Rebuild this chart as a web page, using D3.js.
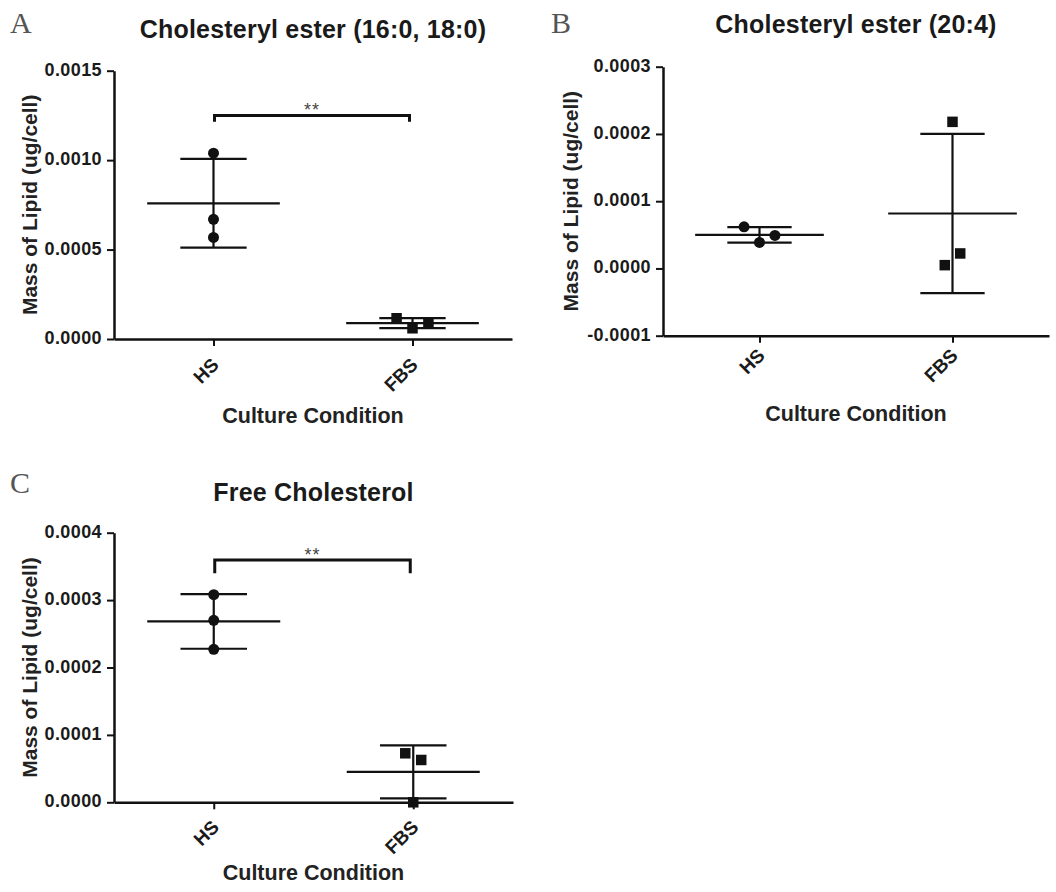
<!DOCTYPE html>
<html>
<head>
<meta charset="utf-8">
<script src="https://cdn.jsdelivr.net/npm/d3@7"></script>
<style>
  html, body { margin: 0; padding: 0; background: #fff; }
  svg { display: block; }
</style>
</head>
<body>
<svg id="chart"></svg>
<script>
// ---- data ----
const categories = ["HS", "FBS"];

const ce1618_HS  = [0.001039, 0.000669, 0.000568];
const ce1618_FBS = [0.000116, 0.000060, 0.000091];
const ce204_HS   = [0.0000619, 0.0000387, 0.0000491];
const ce204_FBS  = [0.000218, 0.0000049, 0.0000223];
const freeChol_HS  = [0.000308, 0.000270, 0.000227];
const freeChol_FBS = [0.0000727, 0.0000628, 0.0];

// jitter slots (Prism-style spreading of overlapping points)
const jitter_ce1618 = [[0, 0, 0], [-1, 0, 1]];
const jitter_ce204  = [[-1, 0, 1], [0, -0.5, 0.5]];
const jitter_free   = [[0, 0, 0], [-0.5, 0.5, 0]];

const ticks_ce1618 = [0, 0.0005, 0.0010, 0.0015];
const ticks_ce204  = [-0.0001, 0, 0.0001, 0.0002, 0.0003];
const ticks_free   = [0, 0.0001, 0.0002, 0.0003, 0.0004];

const bracket_ce1618 = { y: 0.00125, leg: 0.001214, label: "**" };
const bracket_free   = { y: 0.0003595, leg: 0.00034, label: "**" };

const titles = ["Cholesteryl ester (16:0, 18:0)", "Cholesteryl ester (20:4)", "Free Cholesterol"];
const yTitle = "Mass of Lipid (ug/cell)";
const xTitle = "Culture Condition";

// ---- layout ----
const W = 1056, H = 892;
const FONT = "'Liberation Sans', Arial, Helvetica, sans-serif";
const INK = "#111";

const svg = d3.select("#chart").attr("width", W).attr("height", H);
svg.append("rect").attr("width", W).attr("height", H).attr("fill", "#fff");

const panels = [
  { letter: "A", letterX: 10, letterY: 33, title: titles[0], titleY: 38,
    left: 114, right: 512, top: 70.7, bottom: 339,
    ticks: ticks_ce1618, series: [ce1618_HS, ce1618_FBS], jitter: jitter_ce1618,
    bracket: bracket_ce1618, yLabelX: 37, xTitleY: 423, xLabelDy: 27 },
  { letter: "B", letterX: 551, letterY: 33, title: titles[1], titleY: 33,
    left: 663, right: 1049, top: 66.7, bottom: 335.7,
    ticks: ticks_ce204, series: [ce204_HS, ce204_FBS], jitter: jitter_ce204,
    bracket: null, yLabelX: 578, xTitleY: 421, xLabelDy: 21 },
  { letter: "C", letterX: 10, letterY: 493, title: titles[2], titleY: 501,
    left: 114, right: 513, top: 532.7, bottom: 802.3,
    ticks: ticks_free, series: [freeChol_HS, freeChol_FBS], jitter: jitter_free,
    bracket: bracket_free, yLabelX: 37, xTitleY: 880, xLabelDy: 26 }
];

panels.forEach(drawPanel);

function drawPanel(p) {
  const g = svg.append("g");

  const y = d3.scaleLinear()
    .domain(d3.extent(p.ticks))
    .range([p.bottom, p.top]);

  const x = d3.scalePoint()
    .domain(categories)
    .range([p.left, p.right])
    .padding(0.5);

  const step = x.step();

  // panel letter
  g.append("text")
    .attr("x", p.letterX).attr("y", p.letterY)
    .style("font-family", "'Liberation Serif', 'Times New Roman', serif")
    .style("font-size", "30px")
    .style("fill", "#555")
    .text(p.letter);

  // title
  g.append("text")
    .attr("x", (p.left + p.right) / 2).attr("y", p.titleY)
    .attr("text-anchor", "middle")
    .style("font-family", FONT)
    .style("font-weight", "bold")
    .style("font-size", "25px")
    .style("letter-spacing", "0.2px")
    .style("fill", "#1a1a1a")
    .text(p.title);

  // y axis
  const yAxis = g.append("g")
    .attr("transform", `translate(${p.left},0)`)
    .call(d3.axisLeft(y).tickValues(p.ticks).tickFormat(d => d.toFixed(4))
      .tickSize(7).tickSizeOuter(0).tickPadding(5));
  yAxis.select(".domain").attr("stroke", INK).attr("stroke-width", 2.5);
  yAxis.selectAll(".tick line").attr("stroke", INK).attr("stroke-width", 2);
  yAxis.selectAll(".tick text")
    .attr("dy", "0.25em")
    .style("font-family", FONT)
    .style("font-weight", "bold")
    .style("font-size", "18px")
    .style("letter-spacing", "0.4px")
    .style("fill", "#1a1a1a");

  // x axis
  const xAxis = g.append("g")
    .attr("transform", `translate(0,${p.bottom})`)
    .call(d3.axisBottom(x).tickSize(7).tickSizeOuter(0));
  xAxis.select(".domain").attr("stroke", INK).attr("stroke-width", 2.5);
  xAxis.selectAll(".tick line").attr("stroke", INK).attr("stroke-width", 2);
  xAxis.selectAll(".tick text")
    .attr("x", null).attr("y", null).attr("dy", null)
    .attr("text-anchor", "end")
    .attr("transform", `translate(6,${p.xLabelDy}) rotate(-45)`)
    .style("font-family", FONT)
    .style("font-weight", "bold")
    .style("font-size", "19px")
    .style("fill", "#1a1a1a");

  // axis titles
  g.append("text")
    .attr("transform", `translate(${p.yLabelX},${(p.top + p.bottom) / 2}) rotate(-90)`)
    .attr("text-anchor", "middle")
    .style("font-family", FONT)
    .style("font-weight", "bold")
    .style("font-size", "21px")
    .style("fill", "#222")
    .text(yTitle);

  g.append("text")
    .attr("x", (p.left + p.right) / 2).attr("y", p.xTitleY)
    .attr("text-anchor", "middle")
    .style("font-family", FONT)
    .style("font-weight", "bold")
    .style("font-size", "21.5px")
    .style("fill", "#222")
    .text(xTitle);

  // mean +/- SD
  p.series.forEach((vals, i) => {
    const cx = x(categories[i]);
    const m = d3.mean(vals);
    const sd = d3.deviation(vals);
    const eg = g.append("g").attr("stroke", INK).attr("stroke-width", 2.2).attr("fill", "none");

    eg.append("line")
      .attr("x1", cx).attr("x2", cx)
      .attr("y1", y(m - sd)).attr("y2", y(m + sd));
    [m - sd, m + sd].forEach(v => {
      eg.append("line")
        .attr("x1", cx - step / 6).attr("x2", cx + step / 6)
        .attr("y1", y(v)).attr("y2", y(v));
    });
    eg.append("line")
      .attr("x1", cx - step / 3).attr("x2", cx + step / 3)
      .attr("y1", y(m)).attr("y2", y(m));
  });

  // points: circles for HS, squares for FBS
  p.series.forEach((vals, i) => {
    const cx = x(categories[i]);
    const jit = p.jitter[i];
    const pts = vals.map((v, k) => ({ v, px: cx + jit[k] * step * 0.08 }));
    if (i === 0) {
      g.selectAll(null).data(pts).enter().append("circle")
        .attr("cx", d => d.px).attr("cy", d => y(d.v))
        .attr("r", 5.5).attr("fill", INK);
    } else {
      g.selectAll(null).data(pts).enter().append("rect")
        .attr("x", d => d.px - 5.25).attr("y", d => y(d.v) - 5.25)
        .attr("width", 10.5).attr("height", 10.5).attr("fill", INK);
    }
  });

  // significance bracket
  if (p.bracket) {
    const b = p.bracket;
    const x1 = x(categories[0]) + 1, x2 = x(categories[1]) - 3;
    g.append("path")
      .attr("d", `M${x1},${y(b.leg)}V${y(b.y)}H${x2}V${y(b.leg)}`)
      .attr("fill", "none").attr("stroke", INK).attr("stroke-width", 3);
    g.append("text")
      .attr("x", (x1 + x2) / 2).attr("y", y(b.y) + 1)
      .attr("text-anchor", "middle")
      .style("font-family", FONT)
      .style("font-size", "18px")
      .style("letter-spacing", "1px")
      .style("fill", "#444")
      .text(b.label);
  }
}
</script>
</body>
</html>
